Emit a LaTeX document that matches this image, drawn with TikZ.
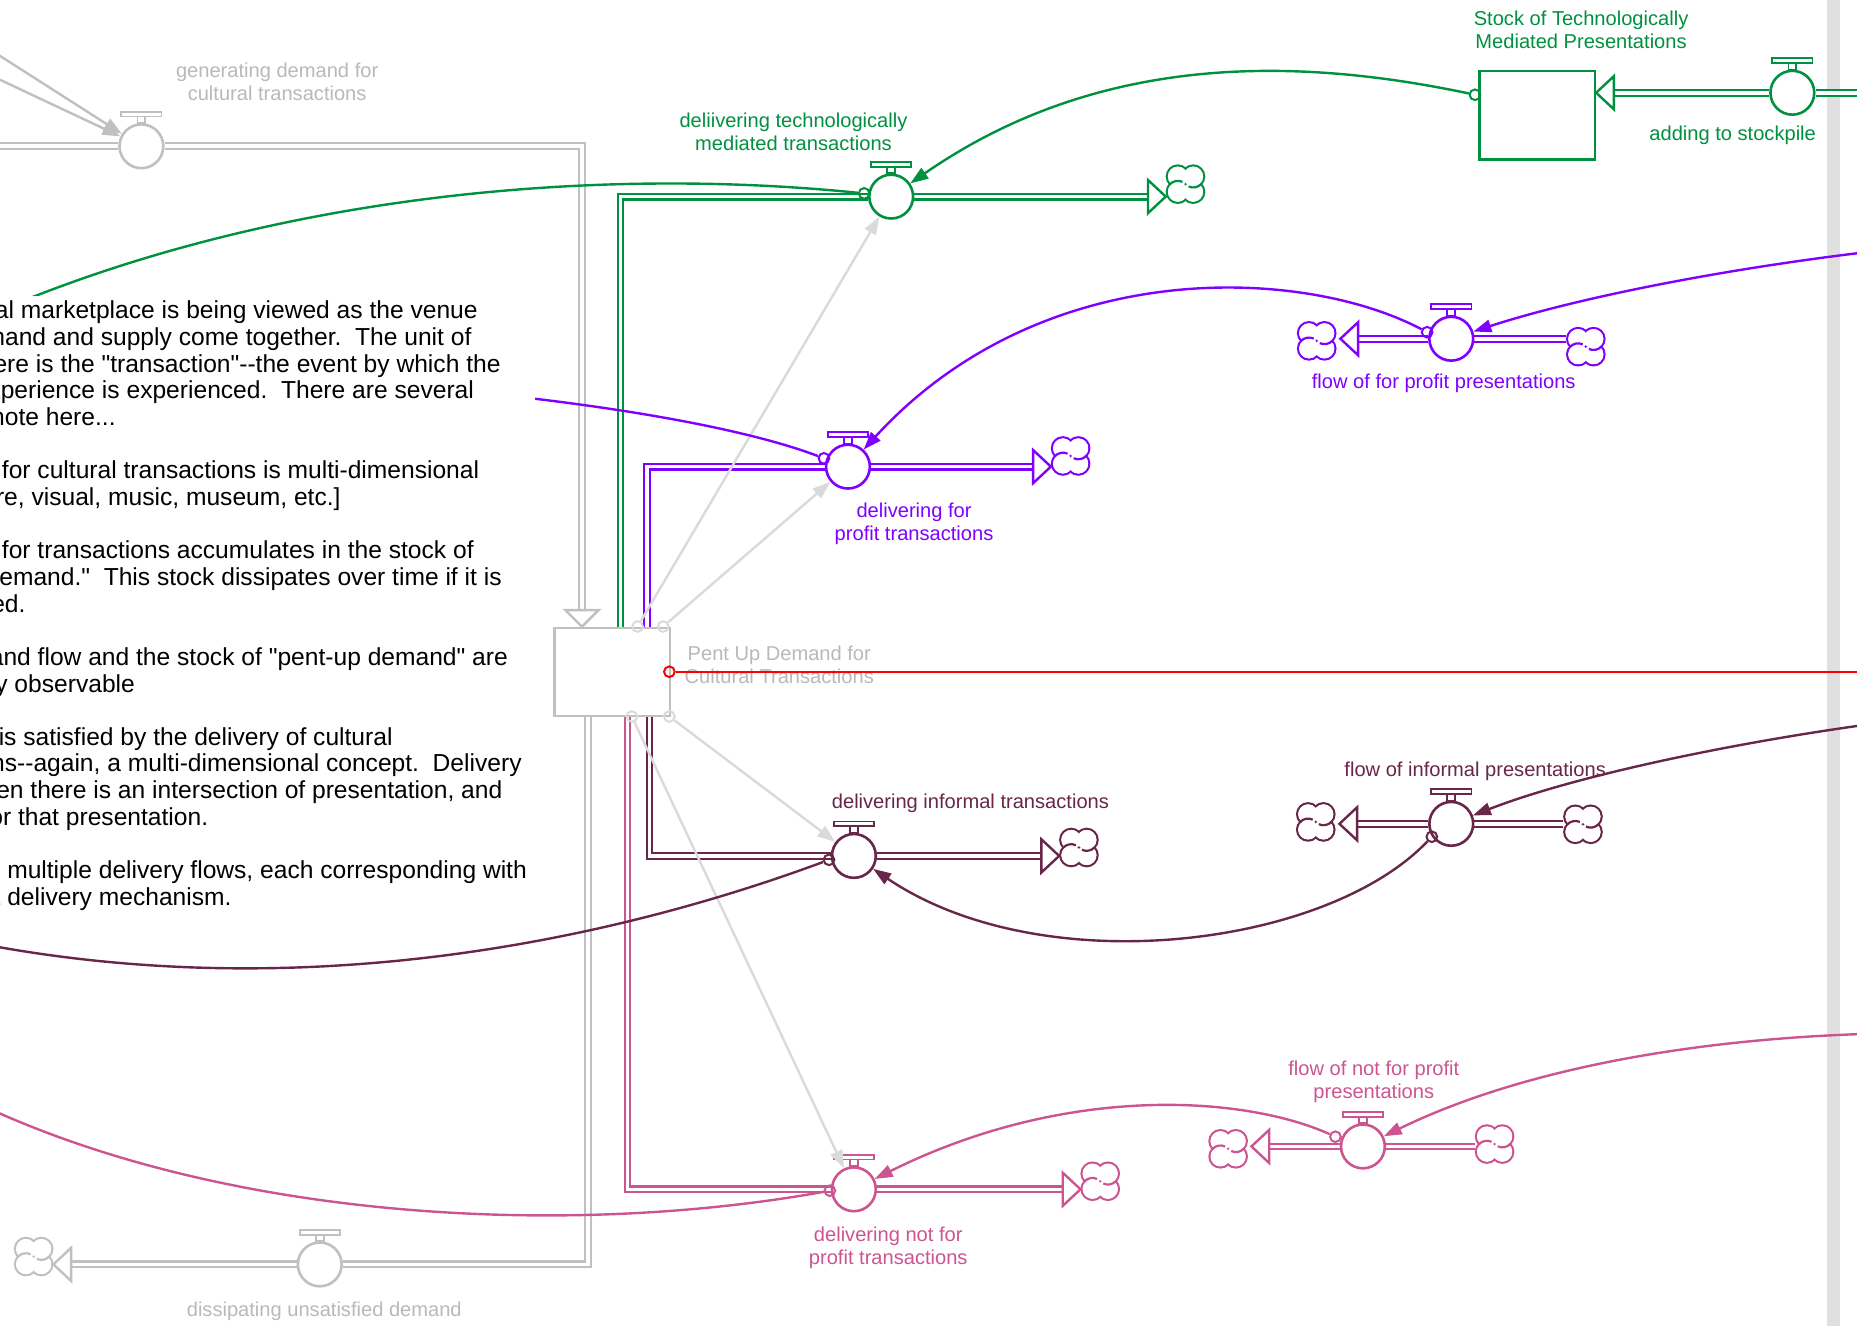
\documentclass[tikz,border=0pt]{standalone}
\usepackage{fontspec}
\setmainfont{Liberation Sans}
% plain family without TeX ligatures, so " and -- print as typed
\newfontfamily\diagfont{Liberation Sans}
\usetikzlibrary{arrows.meta,calc}
\frenchspacing

\newdimen\un \un=1.1843pt

\definecolor{flowgray}{RGB}{192,192,192}
\definecolor{labelgray}{RGB}{185,185,185}
\definecolor{linkgray}{RGB}{218,218,218}
\definecolor{bandgray}{RGB}{224,224,224}
\definecolor{techgreen}{RGB}{0,145,64}
\definecolor{profitviolet}{RGB}{128,0,255}
\definecolor{informalmaroon}{RGB}{104,38,72}
\definecolor{nonprofitpink}{RGB}{204,85,145}
\definecolor{demandred}{RGB}{255,0,0}

\tikzset{
  pipeflow/.style={draw=#1, line width=2.1pt, double=white, double distance=3.6pt},
  valvebody/.style={circle, draw=#1, fill=white, line width=2.6pt, inner sep=0pt, minimum size={37\un}},
  stockbox/.style={rectangle, draw=#1, fill=white, line width=2.4pt, inner sep=0pt,
                   minimum width={97.6\un}, minimum height={74.6\un}},
  cloudspot/.style={inner sep=0pt, minimum width={33\un}, minimum height={32\un}},
  srcdot/.style={circle, draw=#1, line width=2pt, inner sep=0pt, minimum size={9\un}},
  infolink/.style={draw=#1, line width=2.4pt, -{Triangle[length=18pt,width=12.5pt]}},
  infotail/.style={draw=#1, line width=2.4pt},
  flowlabel/.style={text=#1, font=\diagfont\fontsize{20.1pt}{23.3pt}\selectfont, align=center, inner sep=0pt},
  notetext/.style={anchor=base west, inner sep=0pt, font=\diagfont\fontsize{24.6pt}{26.65pt}\selectfont},
}

% stem and handle on top of a valve
\newcommand\valvetop[2]{%
  \draw[draw=#2, fill=white, line width=1.8pt]
    ([xshift=-3.3\un]#1.north) rectangle ([xshift=3.3\un,yshift=5.5\un]#1.north);
  \draw[draw=#2, fill=white, line width=1.8pt]
    ([xshift=-17\un,yshift=5.5\un]#1.north) rectangle ([xshift=17\un,yshift=9.5\un]#1.north);
}

% source / sink cloud drawn round a placeholder node (y grows downwards)
\newcommand\cloudicon[2]{%
  \begin{scope}[shift={(#1.center)}]
    \foreach \cx/\cy in {-6.5/-6.5, 6.5/-6.5, 6.5/6.5, -6.5/6.5}
      \draw[#2, line width=2.2pt] (\cx,\cy) circle [radius=9.3];
    \foreach \cx/\cy in {-6.5/-6.5, 6.5/-6.5, 6.5/6.5, -6.5/6.5}
      \fill[white] (\cx,\cy) circle [radius=8.35];
    % two inner curls: lobe arcs carried on into the middle
    \draw[#2, line width=2.2pt] ($(-6.5,6.5)+(223:9.3)$) arc [start angle=223, end angle=295, radius=9.3];
    \draw[#2, line width=2.2pt] ($(6.5,-6.5)+(43:9.3)$) arc [start angle=43, end angle=115, radius=9.3];
  \end{scope}}

% hollow pipe heads
\newcommand\hollowR[2]{\draw[#1, fill=white, line width=2.4pt]
  ($(#2)+(-15,-14)$) -- (#2) -- ($(#2)+(-15,14)$) -- cycle;}
\newcommand\hollowL[2]{\draw[#1, fill=white, line width=2.4pt]
  ($(#2)+(15,-14)$) -- (#2) -- ($(#2)+(15,14)$) -- cycle;}
\newcommand\hollowD[2]{\draw[#1, fill=white, line width=2.4pt]
  ($(#2)+(-14,-14)$) -- (#2) -- ($(#2)+(14,-14)$) -- cycle;}

\begin{document}
\begin{tikzpicture}[x=1.1843pt, y=-1.1843pt, line join=miter]
\useasboundingbox (0,0) rectangle (1568,1119);
\fill[white] (0,0) rectangle (1568,1119);
\fill[bandgray] (1543,-2) rectangle (1554,1121);

% ---------- stocks ----------
\node[stockbox=flowgray] (pent) at (517,567.5) {};
\node[stockbox=techgreen] (tstock) at (1297.9,97.3) {};

% ---------- placeholders for clouds ----------
\node[cloudspot] (ctech) at (1001,155.5) {};
\node[cloudspot] (cprofit) at (904,385) {};
\node[cloudspot] (cinformal) at (911,715.6) {};
\node[cloudspot] (cnotprofit) at (929,997.4) {};
\node[cloudspot] (cdiss) at (28.4,1061) {};
\node[cloudspot] (cfpL) at (1111.8,287.8) {};
\node[cloudspot] (cfpR) at (1339,292.7) {};
\node[cloudspot] (cfiL) at (1111,694) {};
\node[cloudspot] (cfiR) at (1336.6,696) {};
\node[cloudspot] (cfnL) at (1037,970) {};
\node[cloudspot] (cfnR) at (1262,966) {};

% ---------- valve positions ----------
\coordinate (pvgen) at (119.4,123.5);
\coordinate (pvtech) at (752.5,166);
\coordinate (pvprofit) at (716,394);
\coordinate (pvinformal) at (721,722.7);
\coordinate (pvnotprofit) at (721,1004.2);
\coordinate (pvdiss) at (270,1067.6);
\coordinate (pvadd) at (1513.4,78.3);
\coordinate (pvfp) at (1225.4,286);
\coordinate (pvfi) at (1225.4,695.6);
\coordinate (pvfn) at (1150.8,968);

% invisible anchors so pipes can be routed before valves are drawn
\foreach \v in {vgen,vtech,vprofit,vinformal,vnotprofit,vdiss,vadd,vfp,vfi,vfn}
  \node[circle, inner sep=0pt, minimum size={37\un}, outer sep=1.3pt] (\v) at (p\v) {};

% ---------- pipes ----------
\coordinate (genin) at (-5,123.5);
\draw[pipeflow=flowgray] (genin) -- (vgen.west);
\coordinate (gentip) at ($(pent.north west)+(24.2,0)$);
\draw[pipeflow=flowgray] (vgen.east) -- (vgen.east -| gentip) -- ($(gentip)+(0,-14)$);
\hollowD{flowgray}{gentip}

\coordinate (disstop) at ($(pent.south west)+(29.5,0)$);
\draw[pipeflow=flowgray] (disstop) |- (vdiss.east);
\coordinate (disstip) at (vdiss.west -| cdiss.east);
\draw[pipeflow=flowgray] (vdiss.west) -- ($(disstip)+(15,0)$);
\hollowL{flowgray}{disstip}

\draw[pipeflow=techgreen] ($(pent.north west)+(56.7,0)$) |- (vtech.west);
\coordinate (techtip) at (vtech.east -| ctech.west);
\draw[pipeflow=techgreen] (vtech.east) -- ($(techtip)+(-15,0)$);
\hollowR{techgreen}{techtip}

\draw[pipeflow=profitviolet] ($(pent.north west)+(79.2,0)$) |- (vprofit.west);
\coordinate (profittip) at (vprofit.east -| cprofit.west);
\draw[pipeflow=profitviolet] (vprofit.east) -- ($(profittip)+(-15,0)$);
\hollowR{profitviolet}{profittip}

\draw[pipeflow=informalmaroon] ($(pent.south west)+(81.2,0)$) |- (vinformal.west);
\coordinate (informaltip) at (vinformal.east -| cinformal.west);
\draw[pipeflow=informalmaroon] (vinformal.east) -- ($(informaltip)+(-15,0)$);
\hollowR{informalmaroon}{informaltip}

\draw[pipeflow=nonprofitpink] ($(pent.south west)+(62.7,0)$) |- (vnotprofit.west);
\coordinate (notprofittip) at (vnotprofit.east -| cnotprofit.west);
\draw[pipeflow=nonprofitpink] (vnotprofit.east) -- ($(notprofittip)+(-15,0)$);
\hollowR{nonprofitpink}{notprofittip}

\coordinate (addin) at (1575,78.3);
\draw[pipeflow=techgreen] (addin) -- (vadd.east);
\coordinate (addtip) at (vadd.west -| tstock.east);
\draw[pipeflow=techgreen] (vadd.west) -- ($(addtip)+(13.5,0)$);
\hollowL{techgreen}{addtip}

\draw[pipeflow=profitviolet] (cfpR.west |- vfp.east) -- (vfp.east);
\coordinate (fptip) at ($(vfp.west -| cfpL.east)+(3.3,0)$);
\draw[pipeflow=profitviolet] (vfp.west) -- ($(fptip)+(15,0)$);
\hollowL{profitviolet}{fptip}

\draw[pipeflow=informalmaroon] (cfiR.west |- vfi.east) -- (vfi.east);
\coordinate (fitip) at ($(vfi.west -| cfiL.east)+(3.3,0)$);
\draw[pipeflow=informalmaroon] (vfi.west) -- ($(fitip)+(15,0)$);
\hollowL{informalmaroon}{fitip}

\draw[pipeflow=nonprofitpink] (cfnR.west |- vfn.east) -- (vfn.east);
\coordinate (fntip) at ($(vfn.west -| cfnL.east)+(3,0)$);
\draw[pipeflow=nonprofitpink] (vfn.west) -- ($(fntip)+(15,0)$);
\hollowL{nonprofitpink}{fntip}

% ---------- clouds ----------
\cloudicon{ctech}{techgreen}
\cloudicon{cprofit}{profitviolet}
\cloudicon{cinformal}{informalmaroon}
\cloudicon{cnotprofit}{nonprofitpink}
\cloudicon{cdiss}{flowgray}
\cloudicon{cfpL}{profitviolet}
\cloudicon{cfpR}{profitviolet}
\cloudicon{cfiL}{informalmaroon}
\cloudicon{cfiR}{informalmaroon}
\cloudicon{cfnL}{nonprofitpink}
\cloudicon{cfnR}{nonprofitpink}

% ---------- valves ----------
\node[valvebody=flowgray] (gvgen) at (pvgen) {};            \valvetop{gvgen}{flowgray}
\node[valvebody=techgreen] (gvtech) at (pvtech) {};         \valvetop{gvtech}{techgreen}
\node[valvebody=profitviolet] (gvprofit) at (pvprofit) {};  \valvetop{gvprofit}{profitviolet}
\node[valvebody=informalmaroon] (gvinformal) at (pvinformal) {}; \valvetop{gvinformal}{informalmaroon}
\node[valvebody=nonprofitpink] (gvnotprofit) at (pvnotprofit) {}; \valvetop{gvnotprofit}{nonprofitpink}
\node[valvebody=flowgray] (gvdiss) at (pvdiss) {};          \valvetop{gvdiss}{flowgray}
\node[valvebody=techgreen] (gvadd) at (pvadd) {};           \valvetop{gvadd}{techgreen}
\node[valvebody=profitviolet] (gvfp) at (pvfp) {};          \valvetop{gvfp}{profitviolet}
\node[valvebody=informalmaroon] (gvfi) at (pvfi) {};        \valvetop{gvfi}{informalmaroon}
\node[valvebody=nonprofitpink] (gvfn) at (pvfn) {};         \valvetop{gvfn}{nonprofitpink}

% ---------- information links ----------
\coordinate (ga) at (-5,44);
\coordinate (gb) at (-5,65);
\draw[infolink=flowgray] (ga) -- (gvgen);
\draw[infolink=flowgray] (gb) -- (gvgen);

\node[srcdot=linkgray] (s1) at (538.4,529) {};
\node[srcdot=linkgray] (s2) at (560,529) {};
\node[srcdot=linkgray] (s3) at (565.2,605) {};
\node[srcdot=linkgray] (s4) at (533.5,605) {};
\draw[infolink=linkgray] (s1) -- (gvtech);
\draw[infolink=linkgray] (s2) -- (gvprofit);
\draw[infolink=linkgray] (s3) -- (gvinformal);
\draw[infolink=linkgray] (s4) -- (gvnotprofit);

\node[srcdot=techgreen] (ots) at (1245.4,80) {};
\draw[infolink=techgreen] (ots) .. controls (1080,45) and (920,50) .. (gvtech);
\node[srcdot=techgreen] (ogt) at (729.6,163.3) {};
\coordinate (gtend) at (0,262);
\draw[infotail=techgreen] (ogt) .. controls (500,140) and (230,165) .. (gtend);

\node[srcdot=profitviolet] (opp) at (695.7,387) {};
\coordinate (ppend) at (400,331);
\draw[infotail=profitviolet] (opp) .. controls (630,362) and (520,343) .. (ppend);
\node[srcdot=profitviolet] (ofp) at (1205,280.5) {};
\draw[infolink=profitviolet] (ofp) .. controls (1100,225) and (880,215) .. (gvprofit);
\coordinate (rp) at (1575,213);
\draw[infolink=profitviolet] (rp) .. controls (1450,228) and (1330,252) .. (gvfp);

\node[srcdot=informalmaroon] (omi) at (700,726) {};
\coordinate (miend) at (-5,799);
\draw[infotail=informalmaroon] (omi) .. controls (500,800) and (250,845) .. (miend);
\node[srcdot=informalmaroon] (ofi) at (1209,706.5) {};
\draw[infolink=informalmaroon] (ofi) .. controls (1120,800) and (880,830) .. (gvinformal);
\coordinate (rm) at (1575,612);
\draw[infolink=informalmaroon] (rm) .. controls (1460,628) and (1330,655) .. (gvfi);

\node[srcdot=nonprofitpink] (opn) at (700.7,1005.4) {};
\coordinate (pnend) at (-5,938);
\draw[infotail=nonprofitpink] (opn) .. controls (480,1045) and (200,1030) .. (pnend);
\node[srcdot=nonprofitpink] (ofn) at (1127.6,959.8) {};
\draw[infolink=nonprofitpink] (ofn) .. controls (1050,925) and (900,915) .. (gvnotprofit);
\coordinate (rn) at (1575,873);
\draw[infolink=nonprofitpink] (rn) .. controls (1420,878) and (1280,905) .. (gvfn);

% ---------- comment box ----------
\fill[white] (-10,250) rectangle (452,785);
\node[notetext] (n1) at (17.5,269.3) {\llap{The cultural }marketplace is being viewed as the venue};
\node[notetext] (n2) at (44.6,291.8) {\llap{where demand }and supply come together.\ \ The unit of};
\node[notetext] (n3) at (30.2,314.3) {\llap{analysis here }is the "transaction"--the event by which the};
\node[notetext] (n4) at (86,336.8) {\llap{cultural experience }is experienced.\ \ There are several};
\node[notetext] (n5) at (38.6,359.3) {\llap{things to note }here...};
\node[notetext] (n6) at (1.5,404.3) {\llap{1. Demand }for cultural transactions is multi-dimensional};
\node[notetext] (n7) at (26.5,426.8) {\llap{[theatre, }visual, music, museum, etc.]};
\node[notetext] (n8) at (1.5,471.8) {\llap{2. Demand }for transactions accumulates in the stock of};
\node[notetext] (n9) at (87.5,494.3) {\llap{"pent-up demand."\ \ }This stock dissipates over time if it is};
\node[notetext, anchor=base east] (n10) at (21.7,516.8) {not satisfied.};
\node[notetext] (n11) at (31.7,561.8) {\llap{3. The demand }flow and the stock of "pent-up demand" are};
\node[notetext] (n12) at (12.1,584.3) {\llap{not directly }observable};
\node[notetext] (n13) at (19.6,629.3) {\llap{4. Demand is }satisfied by the delivery of cultural};
\node[notetext] (n14) at (90.5,651.8) {\llap{transactions--again, }a multi-dimensional concept.\ \ Delivery};
\node[notetext] (n15) at (25.6,674.3) {\llap{occurs when }there is an intersection of presentation, and};
\node[notetext] (n16) at (15.1,696.8) {\llap{demand for }that presentation.};
\node[notetext] (n17) at (6,741.8) {\llap{5. There are }multiple delivery flows, each corresponding with};
\node[notetext] (n18) at (6,764.3) {\llap{a different }delivery mechanism.};

% ---------- labels ----------
\node[flowlabel=labelgray] (lgen) at (234,69) {generating demand for\\cultural transactions};
\node[flowlabel=techgreen] (ltech) at (670,111.5) {deliivering technologically\\mediated transactions};
\node[flowlabel=techgreen] (ltstock) at (1335,25.3) {Stock of Technologically\\Mediated Presentations};
\node[flowlabel=techgreen] (ladd) at (1463,114.5) {adding to stockpile};
\node[flowlabel=labelgray] (lpent) at (658,561.5) {Pent Up Demand for\\Cultural Transactions};
\node[flowlabel=profitviolet] (lprofit) at (771.8,442) {delivering for\\profit transactions};
\node[flowlabel=profitviolet] (lfp) at (1219,324) {flow of for profit presentations};
\node[flowlabel=informalmaroon] (linformal) at (819.4,678) {delivering informal transactions};
\node[flowlabel=informalmaroon] (lfi) at (1245.6,651.5) {flow of informal presentations};
\node[flowlabel=nonprofitpink] (lnotprofit) at (750,1053.4) {delivering not for\\profit transactions};
\node[flowlabel=nonprofitpink] (lfn) at (1160,913.5) {flow of not for profit\\presentations};
\node[flowlabel=labelgray] (ldiss) at (273.8,1107) {dissipating unsatisfied demand};

% ---------- demand signal ----------
\node[srcdot=demandred] (ored) at (565.2,567.2) {};
\coordinate (redend) at (1575,567.2);
\draw[infotail=demandred] (ored) -- (redend);
\end{tikzpicture}
\end{document}
